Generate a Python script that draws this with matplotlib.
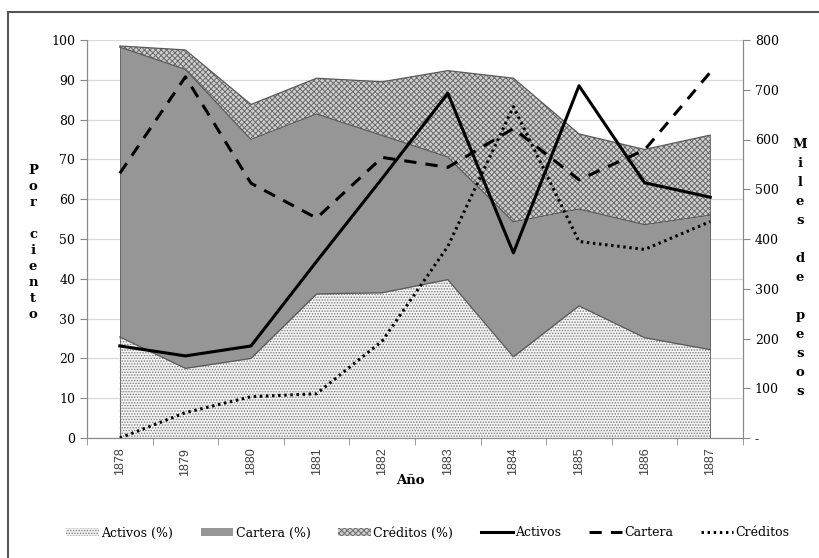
import matplotlib
matplotlib.use("Agg")
import matplotlib.pyplot as plt
from matplotlib.patches import Rectangle
from matplotlib.lines import Line2D
from matplotlib.patches import Patch
import numpy as np

years = ["1878", "1879", "1880", "1881", "1882", "1883", "1884", "1885", "1886", "1887"]
activos_pct = [25.4, 17.5, 20.0, 36.2, 36.5, 39.8, 20.4, 33.2, 25.2, 22.2]
cartera_pct = [72.8, 75.1, 55.0, 45.2, 39.5, 30.8, 33.9, 24.3, 28.4, 33.8]
creditos_pct = [0.3, 4.9, 8.8, 9.0, 13.5, 21.7, 36.1, 18.9, 18.9, 20.1]
activos = [185, 165, 185, 355, 522, 693, 372, 708, 513, 484]
cartera = [532, 726, 512, 442, 564, 544, 622, 519, 579, 735]
creditos = [0, 51, 83, 89, 195, 385, 666, 395, 379, 435]

SERIF = "DejaVu Serif"
plt.rcParams["hatch.linewidth"] = 0.7

fig = plt.figure(figsize=(8.19, 5.58), dpi=100)
ax = fig.add_axes([87 / 819, 1 - 438 / 558, (743 - 87) / 819, (438 - 40) / 558])
ax2 = ax.twinx()

x = np.arange(len(years))
a = np.array(activos_pct)
c = a + np.array(cartera_pct)
t = c + np.array(creditos_pct)

edge = "#5a5a5a"
dot_face, dot_hatch = "#f4f4f4", "#7a7a7a"
cart_face = "#969696"
cred_face, cred_hatch = "#cfcfcf", "#6a6a6a"

ax.fill_between(x, 0, a, facecolor=dot_face, edgecolor=dot_hatch, hatch="......", linewidth=0, zorder=2)
ax.fill_between(x, a, c, facecolor=cart_face, edgecolor=cart_face, linewidth=0, zorder=2)
ax.fill_between(x, c, t, facecolor=cred_face, edgecolor=cred_hatch, hatch="xxxxxx", linewidth=0, zorder=2)
for top in (a, c, t):
    ax.plot(x, top, color=edge, lw=0.9, zorder=3)
ax.vlines([x[0], x[-1]], 0, [t[0], t[-1]], color=edge, lw=0.6, zorder=3)

ax.set_xlim(-0.5, len(years) - 0.5)
ax.set_ylim(0, 100)
ax.set_yticks(np.arange(0, 101, 10))
ax.yaxis.grid(True, color="#d9d9d9", lw=0.9, zorder=0)
ax.set_axisbelow(True)
ax.set_xticks(x)
ax.set_xticklabels(years, rotation=90, fontsize=9, family="Liberation Sans", color="#404040")
ax.set_xticks(np.arange(-0.5, len(years), 1), minor=True)
ax.tick_params(axis="x", which="major", length=0, pad=7)
ax.tick_params(axis="x", which="minor", length=5, color="#8a8a8a")
ax.tick_params(axis="y", length=5, color="#8a8a8a", labelsize=9)
for lab in ax.get_yticklabels():
    lab.set_family(SERIF)

ax2.plot(x, activos, color="black", lw=2.2, zorder=5)
ax2.plot(x, cartera, color="black", lw=2.2, dashes=(4, 3), zorder=5)
ax2.plot(x, creditos, color="black", lw=2.2, linestyle=(0, (0.8, 1.2)), zorder=5)
ax2.set_ylim(0, 800)
ax2.set_yticks(np.arange(0, 801, 100))
ax2.set_yticklabels(["-"] + [str(v) for v in range(100, 801, 100)], family=SERIF, fontsize=9)
ax2.tick_params(axis="y", length=5, color="#8a8a8a")

for a_ in (ax, ax2):
    for s in a_.spines.values():
        s.set_color("#8a8a8a")
    a_.spines["top"].set_visible(False)

fig.text(33 / 819, 1 - 242 / 558, "P\no\nr\n\nc\ni\ne\nn\nt\no", family=SERIF, fontweight="bold",
         fontsize=9.5, ha="center", va="center", linespacing=1.3)
fig.text(800 / 819, 1 - 268 / 558, "M\ni\nl\ne\ns\n\nd\ne\n\np\ne\ns\no\ns", family=SERIF, fontweight="bold",
         fontsize=9.5, ha="center", va="center", linespacing=1.6)
fig.text(410 / 819, 1 - 480 / 558, "Año", family=SERIF, fontweight="bold", fontsize=9.5, ha="center", va="center")

handles = [
    Patch(facecolor=dot_face, edgecolor=dot_hatch, hatch="......", linewidth=0),
    Patch(facecolor=cart_face, edgecolor=cart_face, linewidth=0),
    Patch(facecolor=cred_face, edgecolor=cred_hatch, hatch="xxxxxx", linewidth=0),
    Line2D([], [], color="black", lw=2.2),
    Line2D([], [], color="black", lw=2.2, dashes=(4, 3)),
    Line2D([], [], color="black", lw=2.2, linestyle=(0, (0.8, 1.2))),
]
labels = ["Activos (%)", "Cartera (%)", "Créditos (%)", "Activos", "Cartera", "Créditos"]
fig.legend(handles, labels, loc="center", bbox_to_anchor=(428 / 819, 1 - 533 / 558), ncol=6, frameon=False,
           prop={"family": SERIF, "size": 9}, handlelength=2.6, handleheight=0.6, handletextpad=0.2,
           columnspacing=2.2)

fig.add_artist(Rectangle((8 / 819, -0.05), 1.0, 1 - 12 / 558 + 0.05, transform=fig.transFigure,
                         fill=False, edgecolor="#555555", lw=1.5))

fig.savefig("out.png", dpi=100)
